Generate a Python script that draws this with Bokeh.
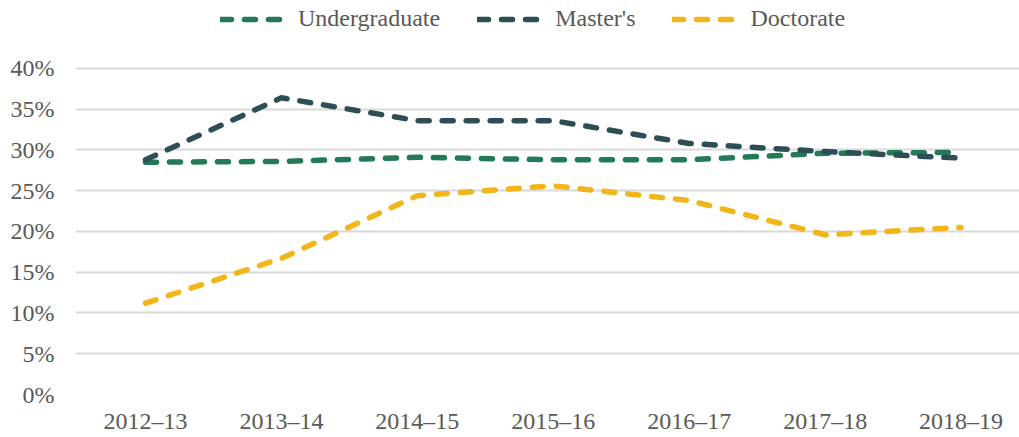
from bokeh.plotting import figure
from bokeh.models import Range1d, FixedTicker, NumeralTickFormatter, Legend, LegendItem
from bokeh.embed import file_html
from bokeh.resources import INLINE

categories = ["2012–13", "2013–14", "2014–15", "2015–16", "2016–17", "2017–18", "2018–19"]
undergraduate = [0.285, 0.286, 0.291, 0.288, 0.288, 0.296, 0.297]
masters = [0.288, 0.364, 0.336, 0.336, 0.308, 0.298, 0.290]
doctorate = [0.112, 0.167, 0.244, 0.256, 0.238, 0.196, 0.205]
y_ticks = [0.0, 0.05, 0.10, 0.15, 0.20, 0.25, 0.30, 0.35, 0.40]

series = [
    ("Undergraduate", undergraduate, "#237A57"),
    ("Master's", masters, "#2E4E55"),
    ("Doctorate", doctorate, "#F2B61A"),
]

FONT = "Liberation Serif"
TXT = "#595959"

x = list(range(len(categories)))

p = figure(width=1019, height=437, output_backend="svg", toolbar_location=None,
           x_range=Range1d(-0.515, 6.43), y_range=Range1d(0, 0.4834),
           min_border_left=75, min_border_right=0, min_border_top=0, min_border_bottom=43)
p.outline_line_color = None
p.background_fill_color = "white"
p.border_fill_color = "white"

p.xgrid.grid_line_color = None
p.ygrid.grid_line_color = "#D9D9D9"
p.ygrid.grid_line_width = 2
p.ygrid.ticker = FixedTicker(ticks=y_ticks)

p.yaxis.ticker = FixedTicker(ticks=y_ticks)
p.yaxis.formatter = NumeralTickFormatter(format="0%")
p.xaxis.ticker = FixedTicker(ticks=x)
p.xaxis.major_label_overrides = {i: c for i, c in enumerate(categories)}

for ax in (p.xaxis[0], p.yaxis[0]):
    ax.axis_line_color = None
    ax.major_tick_line_color = None
    ax.minor_tick_line_color = None
    ax.major_tick_out = 0
    ax.major_tick_in = 0
    ax.major_label_text_font = FONT
    ax.major_label_text_font_size = "24px"
    ax.major_label_text_color = TXT
p.yaxis.major_label_standoff = 21
p.xaxis.major_label_standoff = 13

items = []
for name, vals, color in series:
    r = p.line(x, vals, line_color=color, line_width=5.5, line_dash="11 13",
               line_cap="round", line_join="round")
    items.append(LegendItem(label=name, renderers=[r]))

legend = Legend(items=items, orientation="horizontal", location=(145, 362),
                glyph_width=66, glyph_height=20, label_standoff=12, spacing=37,
                padding=0, margin=0, background_fill_alpha=0, border_line_color=None,
                label_text_font=FONT, label_text_font_size="24px", label_text_color=TXT)
p.add_layout(legend)

open("out.html", "w").write(file_html(p, INLINE))
